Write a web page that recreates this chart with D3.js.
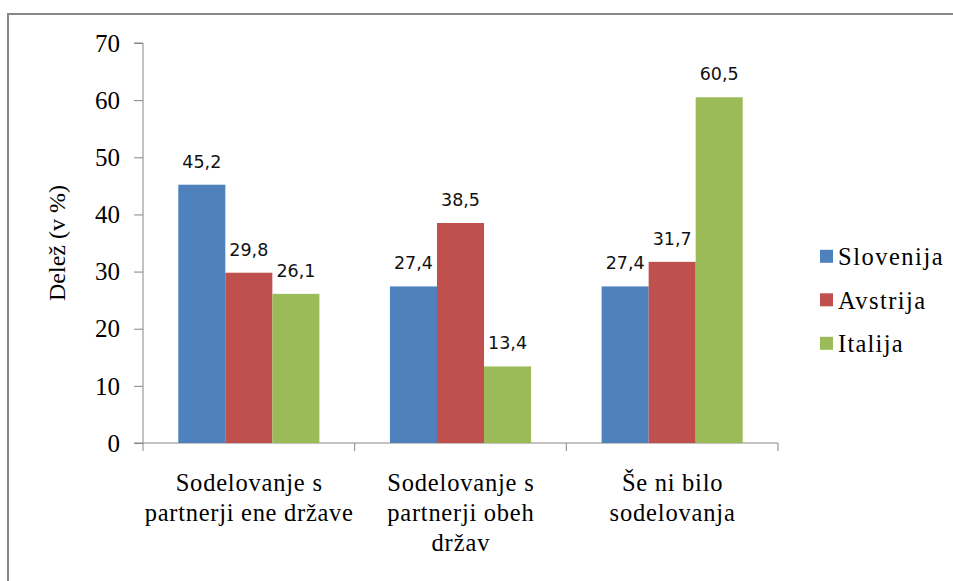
<!DOCTYPE html>
<html><head><meta charset="utf-8">
<script src="https://cdn.jsdelivr.net/npm/d3@7"></script>
<style>body{margin:0;background:#fff}svg{display:block}.serif{font-family:"Liberation Serif","Times New Roman",serif}</style>
</head><body>
<script>
const categories = [["Sodelovanje s", "partnerji ene države"], ["Sodelovanje s", "partnerji obeh", "držav"], ["Še ni bilo", "sodelovanja"]];
const seriesNames = ["Slovenija", "Avstrija", "Italija"];
const slovenija = [45.2, 27.4, 27.4];
const avstrija = [29.8, 38.5, 31.7];
const italija = [26.1, 13.4, 60.5];
const yTicks = [0, 10, 20, 30, 40, 50, 60, 70];
const colors = ["#4F81BD", "#C0504D", "#9BBB59"];
const series = [slovenija, avstrija, italija];

const W = 953, H = 581;
const svg = d3.select("body").append("svg").attr("width", W).attr("height", H);

// outer frame
svg.append("rect").attr("x", 8).attr("y", 14).attr("width", W + 20).attr("height", H + 20)
  .attr("fill", "#fff").attr("stroke", "#878787").attr("stroke-width", 2);

const x0 = 143, x1 = 778, yTop = 43, yBot = 443;
const y = d3.scaleLinear().domain([0, 70]).range([yBot, yTop]);
const xc = d3.scaleBand().domain(d3.range(categories.length)).range([x0, x1]).paddingInner(0).paddingOuter(0);
const gapFrac = 1.5;
const barW = xc.bandwidth() / (3 + gapFrac);
const xs = d3.scaleBand().domain(d3.range(series.length)).range([0, barW * 3]);

function stretch(sel, f) {
  sel.each(function () {
    const len = this.getComputedTextLength();
    d3.select(this).attr("textLength", len * f).attr("lengthAdjust", "spacing");
  });
}

// y axis
const yAxis = d3.axisLeft(y).tickValues(yTicks).tickSize(9).tickPadding(14).tickFormat(d3.format("d"));
const gy = svg.append("g").attr("transform", `translate(${x0},0)`).call(yAxis);
gy.attr("font-family", null).attr("font-size", null);
gy.select(".domain").attr("stroke", "#868686").attr("d", `M-9,${yTop}H0V${yBot}H-9`);
gy.selectAll(".tick line").attr("stroke", "#868686");
gy.selectAll(".tick text").attr("class", "serif").style("font-size", "25px").attr("fill", "#000").attr("dy", "0.33em");

// x axis
const gx = svg.append("g").attr("transform", `translate(0,${yBot})`);
gx.append("line").attr("x1", x0).attr("x2", x1).attr("y1", 0).attr("y2", 0).attr("stroke", "#868686");
const bounds = d3.range(categories.length + 1).map(i => i < categories.length ? xc(i) : xc(i - 1) + xc.bandwidth());
gx.selectAll("line.tk").data(bounds).join("line").attr("class", "tk")
  .attr("x1", d => d).attr("x2", d => d).attr("y1", 0).attr("y2", 8).attr("stroke", "#868686");

// category labels
categories.forEach((lines, i) => {
  lines.forEach((ln, j) => {
    const t = svg.append("text").attr("class", "serif").attr("text-anchor", "middle")
      .style("font-size", "24.5px").attr("fill", "#000")
      .attr("x", xc(i) + xc.bandwidth() / 2).attr("y", 491 + j * 30).text(ln);
    stretch(t, 1.07);
  });
});

// bars
series.forEach((vals, s) => {
  const g = svg.append("g");
  g.selectAll("rect").data(vals).join("rect")
    .attr("x", (d, i) => xc(i) + (xc.bandwidth() - barW * 3) / 2 + xs(s))
    .attr("y", d => y(d))
    .attr("width", barW)
    .attr("height", d => yBot - y(d))
    .attr("fill", colors[s]);
  g.selectAll("text").data(vals).join("text")
    .attr("x", (d, i) => xc(i) + (xc.bandwidth() - barW * 3) / 2 + xs(s) + barW / 2)
    .attr("y", d => y(d) - 17)
    .attr("text-anchor", "middle")
    .style("font-family", "'DejaVu Sans',sans-serif").style("font-size", "17.5px").attr("fill", "#111")
    .text(d => d3.format(".1f")(d).replace(".", ","));
});

// y title
svg.append("text").attr("class", "serif").attr("transform", `translate(65,243) rotate(-90)`).attr("text-anchor", "middle")
  .style("font-size", "24px").attr("fill", "#000").text("Delež (v %)");

// legend
const lg = svg.append("g");
seriesNames.forEach((n, i) => {
  const cy = 256.3 + i * 43.5;
  lg.append("rect").attr("x", 820).attr("y", cy - 6.5).attr("width", 13).attr("height", 13).attr("fill", colors[i]);
  const t = lg.append("text").attr("class", "serif").attr("x", 838).attr("y", cy + 8.7)
    .style("font-size", "24.5px").attr("fill", "#000").text(n);
  stretch(t, 1.13);
});
</script>
</body></html>
